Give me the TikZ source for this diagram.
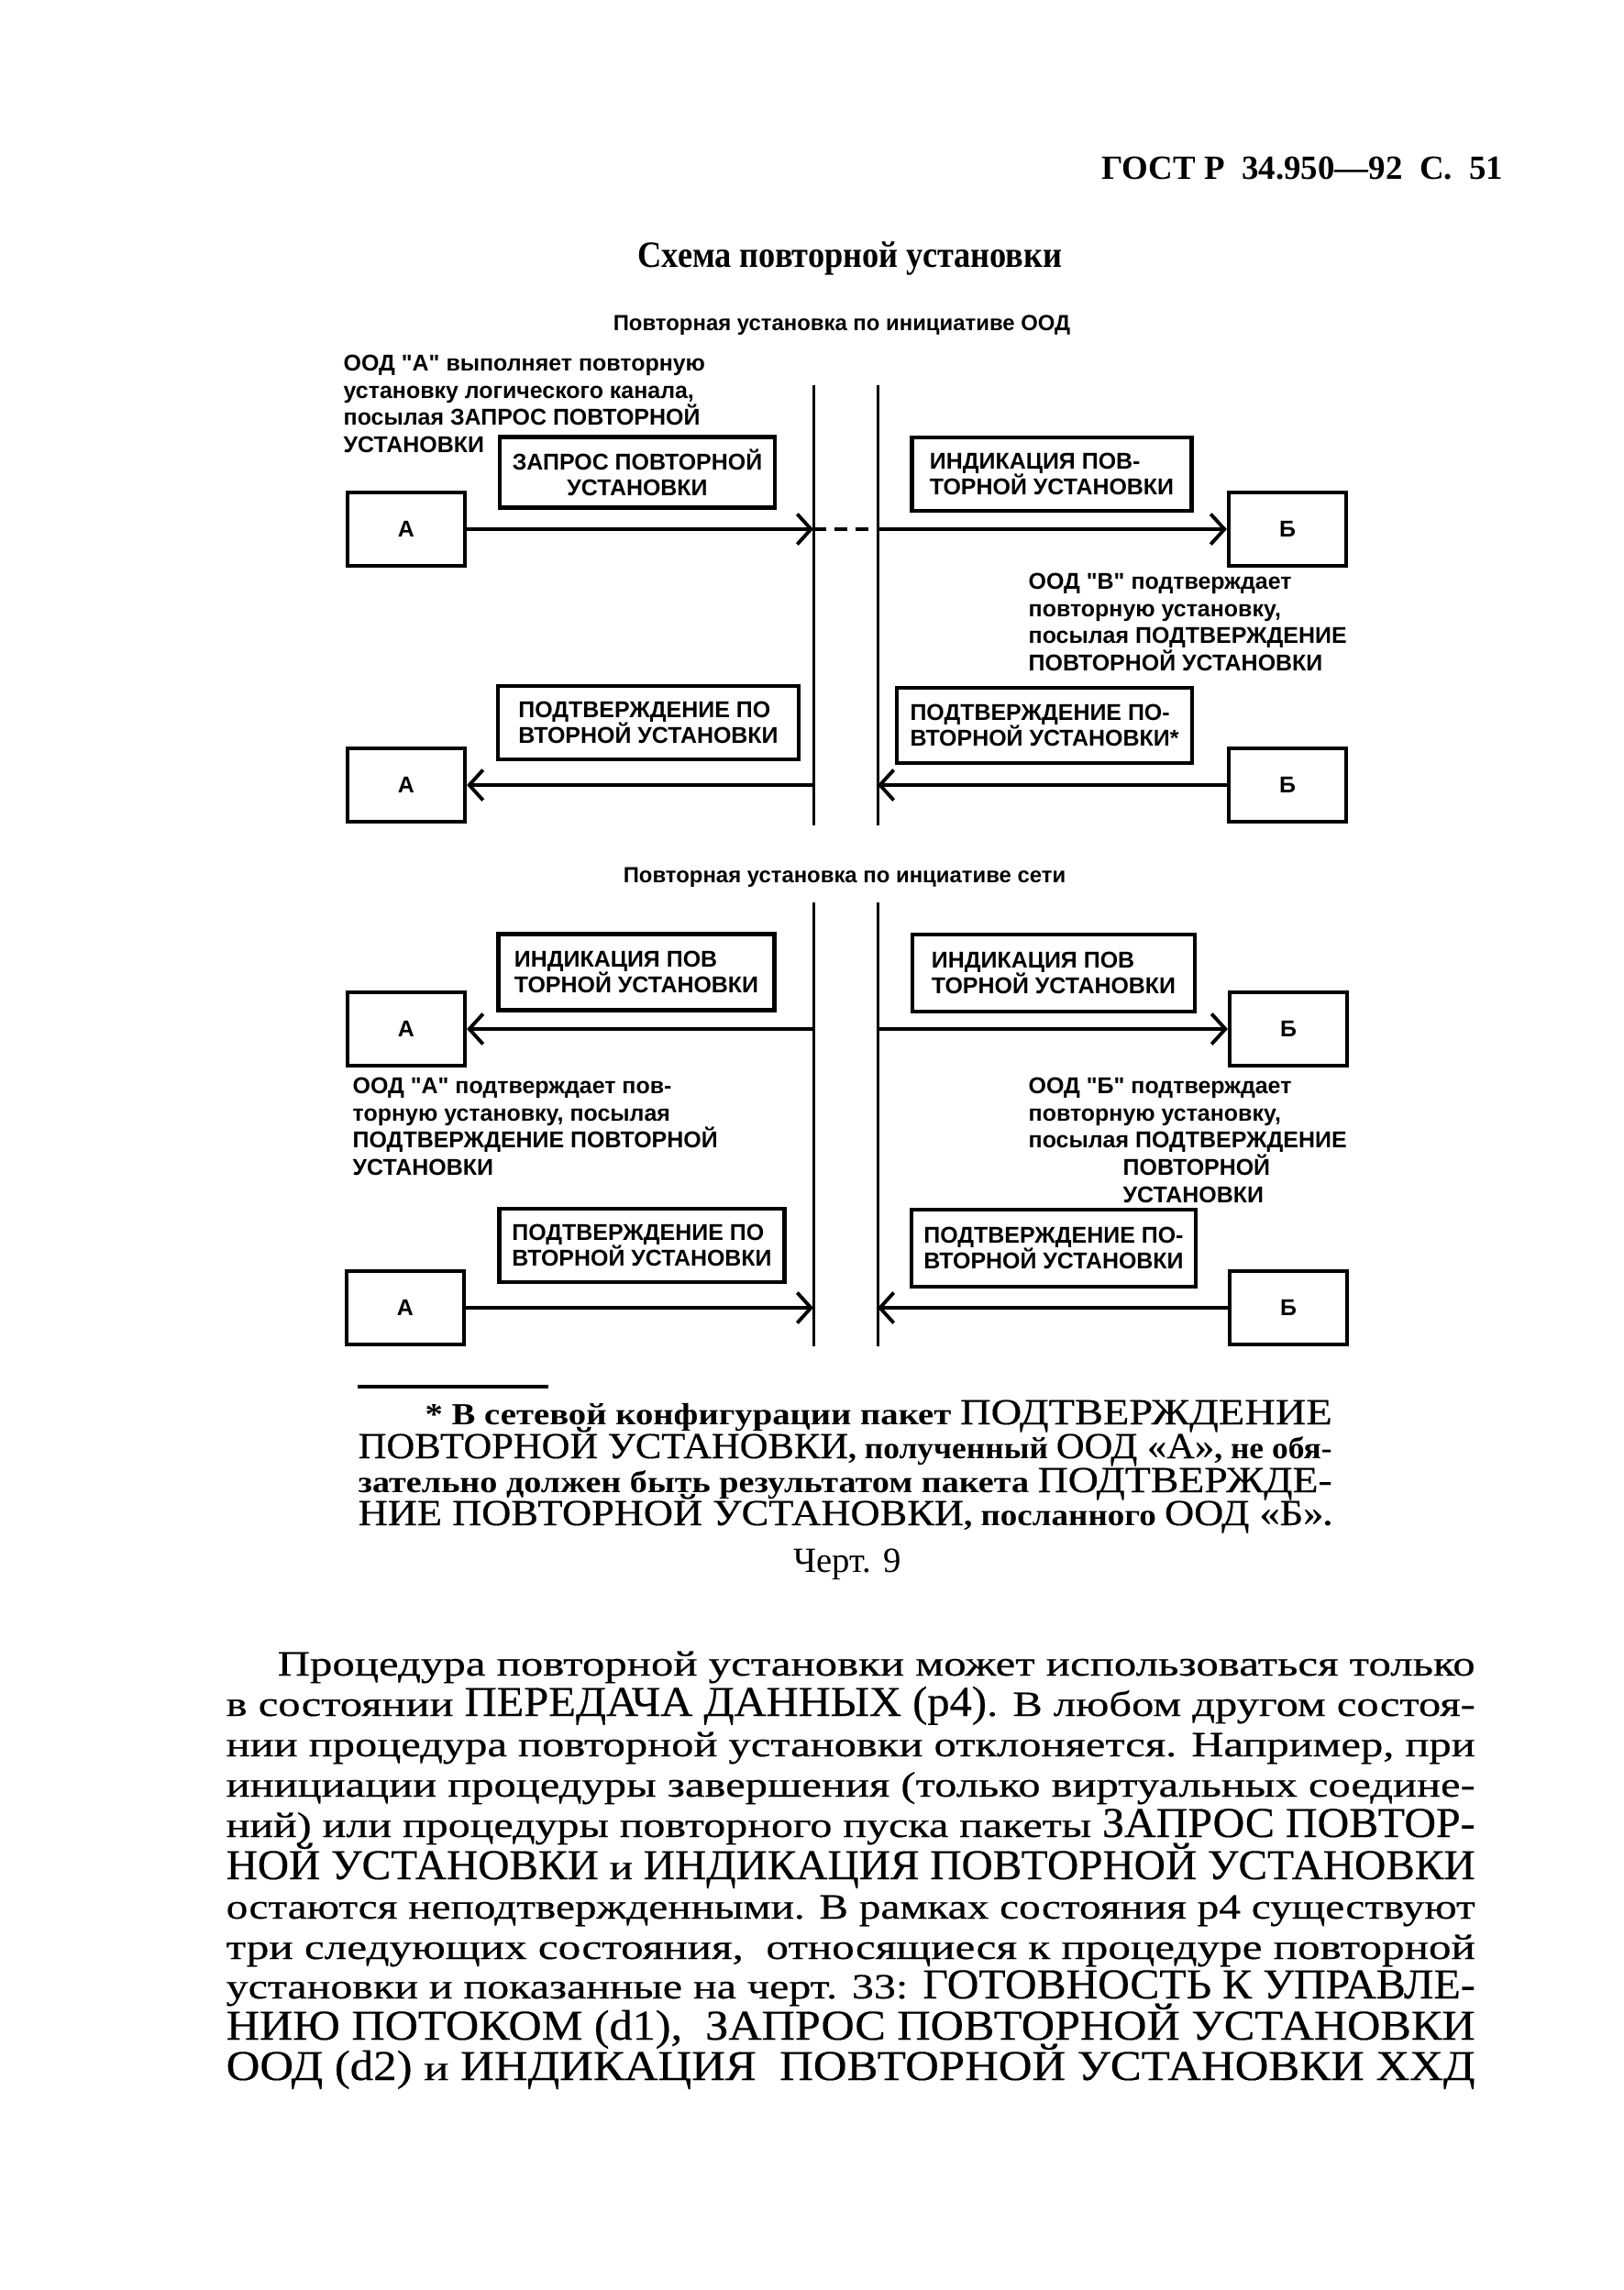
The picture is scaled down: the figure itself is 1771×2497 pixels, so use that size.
\documentclass[tikz,border=0pt]{standalone}
\usepackage{graphicx}
\usepackage{fontspec}
\setmainfont{Liberation Serif}
\newfontfamily\schemefont{Liberation Sans}
\newfontfamily\titlefont[FakeStretch=0.9]{Liberation Serif}
\newfontfamily\bodyfont[FakeStretch=1.2, FakeBold=0.5]{Liberation Serif}
\newfontfamily\capsfont[Scale=1.2, FakeBold=0.4]{Liberation Serif}
\usetikzlibrary{arrows.meta, positioning}

\newcommand{\pkt}[1]{{\capsfont\mdseries #1}}
\newcommand{\fitline}[2]{\resizebox{#1}{\height}{#2}}

\begin{document}
\begin{tikzpicture}[
		x=0.1mm, y=-0.1mm,
		every node/.style={inner sep=0pt},
		entity/.style={
			draw,
			line width=1.2pt,
			minimum width=12.8mm,
			minimum height=8mm,
			font=\schemefont\bfseries\fontsize{7.1}{8}\selectfont
		},
		packet/.style={
			draw,
			line width=1.3pt,
			align=left,
			minimum height=8mm,
			font=\schemefont\bfseries\fontsize{7.1}{8}\selectfont
		},
		remark/.style={
			anchor=north west,
			align=left,
			font=\schemefont\bfseries\fontsize{7.1}{8.5}\selectfont
		},
		caption/.style={
			anchor=base,
			font=\schemefont\bfseries\fontsize{6.8}{8.5}\selectfont
		},
		netline/.style={line width=0.85pt},
		flow/.style={
			line width=1.1pt,
			-{Straight Barb[length=1.5mm, width=3.3mm]}
		},
		bodyline/.style={anchor=base west, font=\bodyfont\fontsize{11}{13}\selectfont},
		footline/.style={anchor=base west, font=\rmfamily\bfseries\fontsize{9.5}{11}\selectfont}
		]
		\useasboundingbox (0,0) rectangle (1771,2497);
		
		% Page head
		\node[anchor=base east, font=\rmfamily\bfseries\fontsize{10.5}{12}\selectfont] (gost) at (1640,195) {ГОСТ\ Р\ \ 34.950—92\ \ С.\ \ 51};
		\node[anchor=base, font=\titlefont\bfseries\fontsize{11.5}{13}\selectfont] (title) at (927,291) {Схема повторной установки};
		
		% Upper scheme
		\node[caption] (sub1) at (918,360) {Повторная установка по инициативе ООД};
		
		\coordinate (l1top) at (887,420);
		\coordinate (l1bot) at (887,900);
		\coordinate (r1top) at (957,420);
		\coordinate (r1bot) at (957,900);
		\draw[netline] (l1top) -- (l1bot);
		\draw[netline] (r1top) -- (r1bot);
		
		\node[remark] (rem1) at (374,386) {ООД "А" выполняет повторную\\
			установку логического канала,\\
			посылая ЗАПРОС ПОВТОРНОЙ\\
			УСТАНОВКИ};
		
		\node[entity] (a1) at (443,577) {А};
		\node[entity] (b1) at (1404,577) {Б};
		\node[packet, align=center, minimum width=30mm, minimum height=7.7mm] (m1) at (695,515) {ЗАПРОС ПОВТОРНОЙ\\ УСТАНОВКИ};
		\node[packet, minimum width=30.5mm] (m2) at (1147,517) {ИНДИКАЦИЯ ПОВ-\\ТОРНОЙ УСТАНОВКИ};
		
		\node[remark] (rem2) at (1121,624) {ООД "В" подтверждает\\
			повторную установку,\\
			посылая ПОДТВЕРЖДЕНИЕ\\
			ПОВТОРНОЙ УСТАНОВКИ};
		
		\node[entity] (a2) at (443,856) {А};
		\node[entity] (b2) at (1404,856) {Б};
		\node[packet, minimum width=32.8mm] (m3) at (707,788) {ПОДТВЕРЖДЕНИЕ ПО\\ВТОРНОЙ УСТАНОВКИ};
		\node[packet, minimum width=32.2mm, minimum height=8.2mm] (m4) at (1139,791) {ПОДТВЕРЖДЕНИЕ ПО-\\ВТОРНОЙ УСТАНОВКИ*};
		
		% Arrows (upper scheme)
		\draw[flow] (a1.east) -- (a1.east -| l1top);
		\draw[line width=1.1pt, dash pattern=on 4pt off 2.5pt] (a1.east -| l1top) -- (a1.east -| r1top);
		\draw[flow] (a1.east -| r1top) -- (b1.west);
		\draw[flow] (b2.west) -- (b2.west -| r1top);
		\draw[flow] (b2.west -| l1top) -- (a2.east);
		
		% Lower scheme
		\node[caption] (sub2) at (921,962) {Повторная установка по инциативе сети};
		
		\coordinate (l2top) at (887,984);
		\coordinate (l2bot) at (887,1468);
		\coordinate (r2top) at (957,984);
		\coordinate (r2bot) at (957,1468);
		\draw[netline] (l2top) -- (l2bot);
		\draw[netline] (r2top) -- (r2bot);
		
		\node[entity] (a3) at (443,1122) {А};
		\node[entity] (b3) at (1405,1122) {Б};
		\node[packet, minimum width=30.1mm, minimum height=8.3mm] (m5) at (694,1060) {ИНДИКАЦИЯ ПОВ\\ТОРНОЙ УСТАНОВКИ};
		\node[packet, minimum width=30.8mm, minimum height=8.4mm] (m6) at (1149,1061) {ИНДИКАЦИЯ ПОВ\\ТОРНОЙ УСТАНОВКИ};
		
		\node[remark] (rem3) at (384,1174) {ООД "А" подтверждает пов-\\
			торную установку, посылая\\
			ПОДТВЕРЖДЕНИЕ ПОВТОРНОЙ\\
			УСТАНОВКИ};
		\node[remark] (rem4) at (1121,1174) {ООД "Б" подтверждает\\
			повторную установку,\\
			посылая ПОДТВЕРЖДЕНИЕ\\
			\hspace*{10.3mm}ПОВТОРНОЙ\\
			\hspace*{10.3mm}УСТАНОВКИ};
		
		\node[entity] (a4) at (442,1426) {А};
		\node[entity] (b4) at (1405,1426) {Б};
		\node[packet, minimum width=31.1mm] (m7) at (700,1358) {ПОДТВЕРЖДЕНИЕ ПО\\ВТОРНОЙ УСТАНОВКИ};
		\node[packet, minimum width=31mm, minimum height=8.4mm] (m8) at (1149,1361) {ПОДТВЕРЖДЕНИЕ ПО-\\ВТОРНОЙ УСТАНОВКИ};
		
		% Arrows (lower scheme)
		\draw[flow] (a3.east -| l2top) -- (a3.east);
		\draw[flow] (b3.west -| r2top) -- (b3.west);
		\draw[flow] (a4.east) -- (a4.east -| l2top);
		\draw[flow] (b4.west) -- (b4.west -| r2top);
		
		% Footnote
		\draw[line width=0.9pt] (390,1512) -- (598,1512);
		\node[footline] (fn1) at (463,1553) {\fitline{98.9mm}{* В сетевой конфигурации пакет \pkt{ПОДТВЕРЖДЕНИЕ}}};
		\node[footline] (fn2) at (390,1590) {\fitline{106.2mm}{\pkt{ПОВТОРНОЙ УСТАНОВКИ}, полученный \pkt{ООД «А»}, не обя-}};
		\node[footline] (fn3) at (390,1627) {\fitline{106.2mm}{зательно должен быть результатом пакета \pkt{ПОДТВЕРЖДЕ-}}};
		\node[footline] (fn4) at (390,1663) {\fitline{106.2mm}{\pkt{НИЕ ПОВТОРНОЙ УСТАНОВКИ}, посланного \pkt{ООД «Б»}.}};
		
		\node[anchor=base, font=\rmfamily\fontsize{11}{13}\selectfont] (fig) at (924,1714) {Черт. 9};
		
		% Body text
		\node[bodyline] (body1) at (302,1827) {\fitline{130.6mm}{Процедура повторной установки может использоваться только}};
		\foreach \n/\y/\t in {
			2/1871/{в состоянии \pkt{ПЕРЕДАЧА ДАННЫХ (p4)}. В любом другом состоя-},
			3/1915/{нии процедура повторной установки отклоняется. Например, при},
			4/1959/{инициации процедуры завершения (только виртуальных соедине-},
			5/2003/{ний) или процедуры повторного пуска пакеты \pkt{ЗАПРОС ПОВТОР-}},
			6/2049/{\pkt{НОЙ УСТАНОВКИ} и \pkt{ИНДИКАЦИЯ ПОВТОРНОЙ УСТАНОВКИ}},
			7/2092/{остаются неподтвержденными. В рамках состояния p4 существуют},
			8/2136/{три следующих состояния, \ относящиеся к процедуре повторной},
			9/2179/{установки и показанные на черт. 33: \pkt{ГОТОВНОСТЬ К УПРАВЛЕ-}},
			10/2224/{\pkt{НИЮ ПОТОКОМ (d1),} \ \pkt{ЗАПРОС ПОВТОРНОЙ УСТАНОВКИ}},
			11/2268/{\pkt{ООД (d2)} и \pkt{ИНДИКАЦИЯ}\ \ \pkt{ПОВТОРНОЙ УСТАНОВКИ ХХД}}}
			\node[bodyline] (body\n) at (246,\y) {\fitline{136.2mm}{\t}};
		
	\end{tikzpicture}
\end{document}
